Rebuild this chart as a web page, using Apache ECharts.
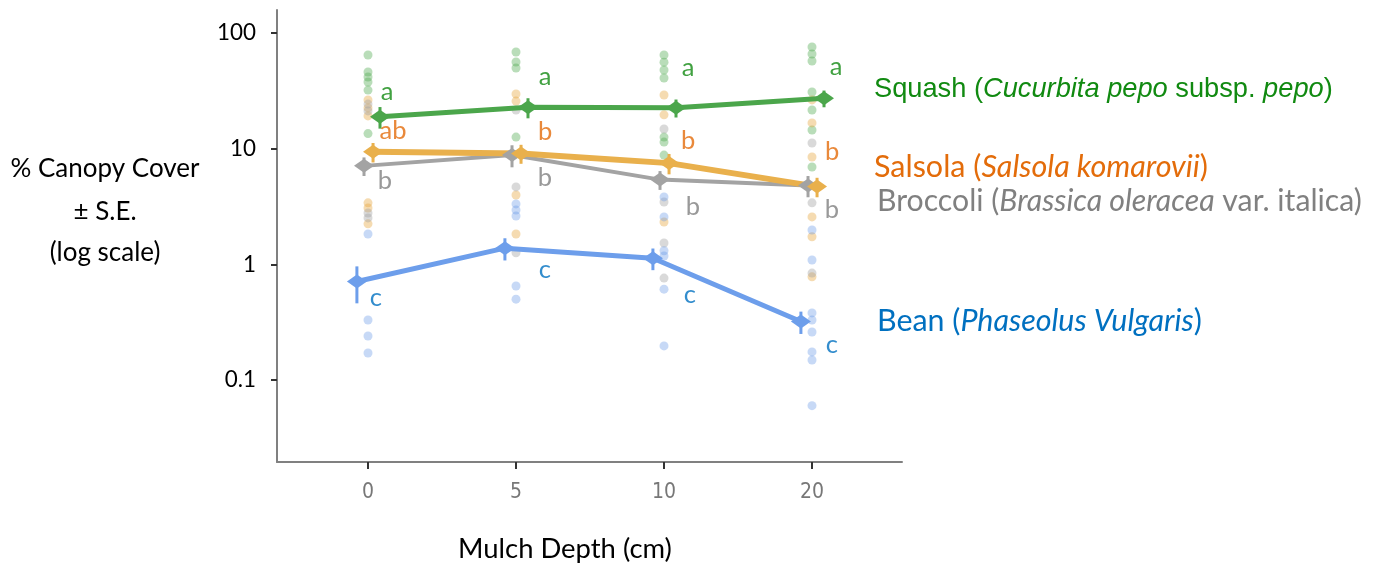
<!DOCTYPE html>
<html><head><meta charset="utf-8">
<script src="https://cdn.jsdelivr.net/npm/echarts@6/dist/echarts.min.js"></script>
<style>html,body{margin:0;padding:0;background:#fff}#c{width:1377px;height:568px}</style>
</head><body><div id="c"></div>
<script>
// ---------------- DATA ----------------
const categories = ['0', '5', '10', '20'];
const yTickValues = [0.1, 1, 10, 100];
const yTickLabels = ['0.1', '1', '10', '100'];

const squashMean   = [18.9, 22.8, 22.6, 27.3];
const salsolaMean  = [9.4, 9.1, 7.5, 4.7];
const broccoliMean = [7.1, 8.8, 5.4, 4.8];
const beanMean     = [0.71, 1.38, 1.13, 0.32];

const squashSE   = [4.0, 4.5, 4.0, 4.5];
const salsolaSE  = [1.8, 1.7, 1.5, 0.9];
const broccoliSE = [1.3, 1.9, 1.0, 1.0];
const beanSE     = [0.25, 0.3, 0.24, 0.07];

const squashRaw = [
  [64.6, 46, 41.7, 37.7, 32.1, 13.5],
  [68.5, 56.1, 49.8, 12.6],
  [64.6, 56, 47.9, 40.8, 12.6, 11.4, 8.8],
  [75.7, 65.8, 57.3, 30.9, 21.6, 14.5, 6.95]
];
const salsolaRaw = [
  [26.4, 22.5, 19.2, 3.4, 3.07, 2.24],
  [29.7, 25.8, 3.98, 1.83],
  [29.1, 19.6, 2.32],
  [26.4, 16.7, 8.47, 2.57, 1.73, 0.78]
];
const broccoliRaw = [
  [24.3, 21.2, 2.78, 2.52],
  [21.6, 4.67, 1.26],
  [14.8, 3.46, 1.53, 0.76],
  [11.2, 3.4, 0.84]
];
const beanRaw = [
  [1.83, 0.33, 0.24, 0.171],
  [3.33, 2.95, 2.62, 0.65, 0.5],
  [3.83, 2.57, 1.31, 1.18, 0.61, 0.197],
  [1.98, 1.09, 0.38, 0.33, 0.26, 0.175, 0.149, 0.06]
];

const squashLetters   = ['a', 'a', 'a', 'a'];
const salsolaLetters  = ['ab', 'b', 'b', 'b'];
const broccoliLetters = ['b', 'b', 'b', 'b'];
const beanLetters     = ['c', 'c', 'c', 'c'];

// ---------------- STYLE / LAYOUT ----------------
const CAL = 'Lato';
const ARIAL = 'Liberation Sans';
const NARROW = '"Liberation Sans Narrow", "DejaVu Sans Condensed", "Liberation Sans"';
const Y_MIN = 0.01954, Y_MAX = 158.1;
const mctx = document.createElement('canvas').getContext('2d');
function textW(t, fam, italic) { mctx.font = (italic ? 'italic ' : '') + '100px ' + fam; return mctx.measureText(t).width / 100; }
function fit(parts, fam, target) { let w = 0; parts.forEach(p => { w += textW(p[0], fam, p[1]); }); return target / w; }

const species = [
  { key: 'squash', mean: squashMean, se: squashSE, raw: squashRaw, letters: squashLetters,
    dodge: 0.081, line: '#4ba64b', width: 5, pt: 'rgba(80,170,80,0.5)', txt: '#118a11',
    letterOff: [[7, -25], [17, -30], [12, -40], [12, -31]] },
  { key: 'salsola', mean: salsolaMean, se: salsolaSE, raw: salsolaRaw, letters: salsolaLetters,
    dodge: 0.034, line: '#e9b04c', width: 6, pt: 'rgba(230,165,60,0.5)', txt: '#e36c0a',
    letterOff: [[20, -21], [24, -22], [19, -22], [15, -35]] },
  { key: 'broccoli', mean: broccoliMean, se: broccoliSE, raw: broccoliRaw, letters: broccoliLetters,
    dodge: -0.027, line: '#a3a3a3', width: 4, pt: 'rgba(160,160,160,0.5)', txt: '#808080',
    letterOff: [[21, 15], [33, 23], [33, 27], [24, 24]] },
  { key: 'bean', mean: beanMean, se: beanSE, raw: beanRaw, letters: beanLetters,
    dodge: -0.075, line: '#6d9eeb', width: 5, pt: 'rgba(100,150,230,0.45)', txt: '#0070c0',
    letterOff: [[19, 16], [40, 22], [37, 37], [31, 23]] }
];

const letterSize = fit([['ab', false]], CAL, 27);
const series = [];
species.forEach(sp => {
  const pts = [];
  sp.raw.forEach((arr, i) => arr.forEach(v => pts.push([i, v])));
  series.push({ type: 'scatter', data: pts, symbolSize: 9, z: 1,
    itemStyle: { color: sp.pt }, silent: true });
});
species.slice().reverse().forEach(sp => {
  series.push({ type: 'line', data: sp.mean.map((m, i) => [i + sp.dodge, m]), symbol: 'none', z: 2,
    lineStyle: { color: sp.line, width: sp.width }, silent: true });
  series.push({ type: 'custom', z: 3, silent: true,
    data: sp.mean.map((m, i) => [i + sp.dodge, m, sp.se[i]]),
    renderItem: function (params, api) {
      const x = api.value(0), m = api.value(1), se = api.value(2);
      const c = api.coord([x, m]);
      const hi = api.coord([x, m + se]);
      const lo = api.coord([x, m - se]);
      return { type: 'group', children: [
        { type: 'line', shape: { x1: c[0], y1: hi[1], x2: c[0], y2: lo[1] }, style: { stroke: sp.line, lineWidth: 3 } },
        { type: 'polygon', shape: { points: [[c[0], c[1] - 7], [c[0] + 10, c[1]], [c[0], c[1] + 7], [c[0] - 10, c[1]]] }, style: { fill: sp.line } }
      ] };
    }
  });
});
species.forEach(sp => {
  series.push({ type: 'scatter', symbolSize: 0, z: 4, silent: true,
    data: sp.mean.map((m, i) => ({ value: [i + sp.dodge, m], label: { offset: sp.letterOff[i], formatter: sp.letters[i] } })),
    label: { show: true, position: 'inside', color: sp.txt, fontFamily: CAL, fontSize: letterSize }
  });
});
// x category labels placed at the bottom of the axis
series.push({ type: 'scatter', symbolSize: 0, z: 5, silent: true, clip: false,
  data: categories.map((c, i) => ({ value: [i, Y_MIN], name: c })),
  label: { show: true, position: 'bottom', distance: 20, formatter: p => p.name,
    fontFamily: NARROW, fontSize: 21, color: '#555555' } });

// Legend-like labels
const legendDefs = [
  { fam: ARIAL, color: '#118a11', x: 874, y: 89, target: 459,
    parts: [['Squash (', false], ['Cucurbita pepo', true], [' subsp. ', false], ['pepo', true], [')', false]] },
  { fam: CAL, color: '#e36c0a', x: 874, y: 167, target: 334,
    parts: [['Salsola (', false], ['Salsola komarovii', true], [')', false]] },
  { fam: CAL, color: '#808080', x: 877, y: 201, target: 485,
    parts: [['Broccoli (', false], ['Brassica oleracea', true], [' var. italica)', false]] },
  { fam: CAL, color: '#0070c0', x: 877, y: 321, target: 325,
    parts: [['Bean (', false], ['Phaseolus Vulgaris', true], [')', false]] }
];
const graphics = legendDefs.map(d => {
  const fs = fit(d.parts, d.fam, d.target);
  const text = d.parts.map(p => '{' + (p[1] ? 'i' : 'n') + '|' + p[0] + '}').join('');
  return { type: 'text', x: d.x, y: d.y, silent: true,
    style: { text: text, verticalAlign: 'middle', align: 'left',
      rich: { n: { fontFamily: d.fam, fontSize: fs, fill: d.color, color: d.color },
              i: { fontFamily: d.fam, fontSize: fs, fontStyle: 'italic', fill: d.color, color: d.color } } } };
});
const titleSize = fit([['% Canopy Cover', false]], CAL, 189);
[['% Canopy Cover', 169], ['\u00b1 S.E.', 212], ['(log scale)', 253]].forEach(t => {
  graphics.push({ type: 'text', x: 105, y: t[1], silent: true,
    style: { text: t[0], fontFamily: CAL, fontSize: titleSize, fill: '#000', align: 'center', verticalAlign: 'middle' } });
});
const xTitleSize = fit([['Mulch Depth (cm)', false]], CAL, 214);
graphics.push({ type: 'text', x: 565, y: 549, silent: true,
  style: { text: 'Mulch Depth (cm)', fontFamily: CAL, fontSize: xTitleSize, fill: '#000', align: 'center', verticalAlign: 'middle' } });

const yLabelSize = fit([['100', false]], CAL, 39);

const chart = echarts.init(document.getElementById('c'), null, { renderer: 'canvas' });
chart.setOption({
  animation: false,
  backgroundColor: '#fff',
  grid: { left: 277, right: 475, top: 10, bottom: 106, containLabel: false },
  xAxis: {
    type: 'value', min: -0.6149, max: 3.608,
    axisLine: { show: true, onZero: false, lineStyle: { color: '#808080', width: 2 } },
    axisTick: { show: true, customValues: [0, 1, 2, 3], length: 7, lineStyle: { color: '#333', width: 2 } },
    axisLabel: { show: false },
    splitLine: { show: false }
  },
  yAxis: {
    type: 'log', logBase: 10, min: Y_MIN, max: Y_MAX,
    axisLine: { show: true, onZero: false, lineStyle: { color: '#808080', width: 2 } },
    axisTick: { show: true, customValues: yTickValues, length: 6, lineStyle: { color: '#333', width: 2 } },
    axisLabel: { customValues: yTickValues, margin: 21, fontFamily: CAL, fontSize: yLabelSize, color: '#000',
      formatter: v => { let best = 0; yTickValues.forEach((t, i) => { if (Math.abs(Math.log10(t) - Math.log10(v)) < Math.abs(Math.log10(yTickValues[best]) - Math.log10(v))) best = i; }); return yTickLabels[best]; } },
    splitLine: { show: false }, minorTick: { show: false }
  },
  series: series,
  graphic: graphics
});
</script></body></html>
